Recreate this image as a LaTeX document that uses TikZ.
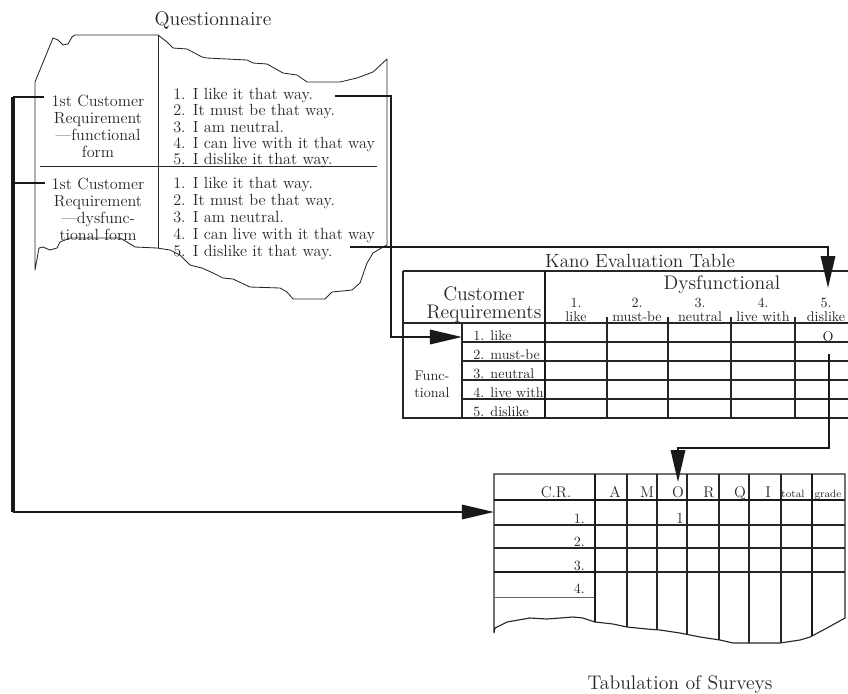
\documentclass[tikz,border=0pt]{standalone}
\usepackage{amsmath}
\usepackage{tikz}
\usetikzlibrary{arrows.meta}

\newcommand{\qitem}[2]{\makebox[14pt][l]{#1}#2}

\begin{document}
\begin{tikzpicture}[x=0.025cm,y=-0.025cm,
		ttl/.style={font=\fontsize{14}{16}\selectfont,text=black!85,inner sep=0pt},
		qtext/.style={font=\fontsize{11.5}{12.1}\selectfont,text=black!85,inner sep=0pt},
		lab/.style={font=\fontsize{10}{11}\selectfont,text=black!85,inner sep=0pt},
		labtiny/.style={font=\fontsize{7.5}{8}\selectfont,text=black!85,inner sep=0pt},
		wavy/.style={line width=0.6pt,black!85,line join=round},
		rule/.style={line width=0.8pt,black!85},
		heavyrule/.style={line width=2pt,black!90},
		link/.style={line width=1.4pt,black!90},
		linkarrow/.style={link,-{Triangle[length=0.8cm,width=0.36cm]}}]

		\useasboundingbox (0,0) rectangle (848,693);

		%------------------------------------------------------
		% questionnaire sheet
		\node[ttl,anchor=base] (qtitle) at (213,25) {Questionnaire};

		\draw[wavy] (35,270) -- (35,82) -- (53,38) -- (58,40) -- (63,45) -- (68,44) -- (72,37) -- (75,35)
			-- (158,35) -- (167,42) -- (173,48) -- (187,49) -- (202,57) -- (207,58) -- (247,60) -- (253,63)
			-- (267,64) -- (283,73) -- (297,75) -- (307,82) -- (340,82) -- (357,78) -- (373,72) -- (387,59)
			-- (387,245) -- (383,247) -- (373,253) -- (367,263) -- (360,283) -- (352,290) -- (332,292)
			-- (325,299) -- (293,299) -- (287,292) -- (280,288) -- (250,287) -- (233,279) -- (223,278)
			-- (213,273) -- (202,268) -- (190,265) -- (180,255) -- (170,250) -- (157,248) -- (135,247)
			-- (127,242) -- (120,238) -- (70,238) -- (60,242) -- (57,248) -- (50,250) -- (43,247)
			-- (39,248) -- cycle;
		\draw[wavy] (158,35) -- (158,248);
		\draw[wavy] (40,166) -- (377,166);
		%------------------------------------------------------


		%------------------------------------------------------
		\node[qtext,align=center] (crfun) at (98,126) {1st Customer\\Requirement\\---functional\\form};
		\node[qtext,align=center] (crdys) at (98,209) {1st Customer\\Requirement\\---dysfunc-\\tional form};

		\node[qtext,anchor=base west] (qa1) at (173,99) {\qitem{1.}{I like it that way.}};
		\node[qtext,anchor=base west] (qa2) at (173,115) {\qitem{2.}{It must be that way.}};
		\node[qtext,anchor=base west] (qa3) at (173,132) {\qitem{3.}{I am neutral.}};
		\node[qtext,anchor=base west] (qa4) at (173,148) {\qitem{4.}{I can live with it that way}};
		\node[qtext,anchor=base west] (qa5) at (173,164) {\qitem{5.}{I dislike it that way.}};

		\node[qtext,anchor=base west] (qb1) at (173,188) {\qitem{1.}{I like it that way.}};
		\node[qtext,anchor=base west] (qb2) at (173,205) {\qitem{2.}{It must be that way.}};
		\node[qtext,anchor=base west] (qb3) at (173,222) {\qitem{3.}{I am neutral.}};
		\node[qtext,anchor=base west] (qb4) at (173,239) {\qitem{4.}{I can live with it that way}};
		\node[qtext,anchor=base west] (qb5) at (173,256) {\qitem{5.}{I dislike it that way.}};
		%------------------------------------------------------


		%------------------------------------------------------
		% Kano table
		\node[ttl,anchor=base,font=\fontsize{13.6}{16}\selectfont] (ktitle) at (640,267) {Kano Evaluation Table};

		\draw[rule] (403,271) -- (848,271);
		\draw[rule] (403,271) -- (403,418) -- (848,418);
		\draw[rule] (403,323) -- (848,323);
		\draw[rule] (462,323) -- (462,418);
		\draw[rule] (462,342) -- (848,342);
		\draw[rule] (462,361) -- (848,361);
		\draw[rule] (462,380) -- (848,380);
		\draw[rule] (462,399) -- (848,399);
		\draw[rule] (607,317) -- (607,418);
		\draw[rule] (668,317) -- (668,418);
		\draw[rule] (731,317) -- (731,418);
		\draw[rule] (795,317) -- (795,418);
		\draw[heavyrule] (545,271) -- (545,418);

		\node[ttl,anchor=base] (kcust) at (484,300) {Customer};
		\node[ttl,anchor=base] (kreq) at (484,318) {Requirements};
		\node[ttl,anchor=base] (kdys) at (722,289) {Dysfunctional};

		\node[lab,anchor=base] (kc1) at (576,307) {1.};
		\node[lab,anchor=base] (kc1t) at (576,321) {like};
		\node[lab,anchor=base] (kc2) at (637,307) {2.};
		\node[lab,anchor=base] (kc2t) at (637,321) {must-be};
		\node[lab,anchor=base] (kc3) at (700,307) {3.};
		\node[lab,anchor=base] (kc3t) at (700,321) {neutral};
		\node[lab,anchor=base] (kc4) at (763,307) {4.};
		\node[lab,anchor=base] (kc4t) at (763,321) {live with};
		\node[lab,anchor=base] (kc5) at (826,307) {5.};
		\node[lab,anchor=base] (kc5t) at (826,321) {dislike};

		\node[lab,anchor=base] (kfun) at (432,380) {Func-};
		\node[lab,anchor=base] (kfun2) at (432,397) {tional};

		\node[lab,anchor=base west] (kr1) at (473,340) {1. like};
		\node[lab,anchor=base west] (kr2) at (473,359) {2. must-be};
		\node[lab,anchor=base west] (kr3) at (473,378) {3. neutral};
		\node[lab,anchor=base west] (kr4) at (473,397) {4. live with};
		\node[lab,anchor=base west] (kr5) at (473,416) {5. dislike};

		\node[lab,anchor=base] (kmark) at (828,341) {O};
		%------------------------------------------------------


		%------------------------------------------------------
		% tabulation of surveys
		\draw[rule] (494,633) -- (494,474) -- (845,474) -- (845,618) -- (827,628) -- (810,637) -- (800,640)
			-- (780,643) -- (733,643) -- (720,640) -- (700,637) -- (680,633) -- (660,630) -- (647,629)
			-- (627,627) -- (613,624) -- (595,622) -- (583,618) -- (573,617) -- (547,619) -- (530,618)
			-- (507,622) -- (495,628) -- (494,633);

		\begin{scope}
			\clip (494,474) -- (845,474) -- (845,618) -- (827,628) -- (810,637) -- (800,640)
				-- (780,643) -- (733,643) -- (720,640) -- (700,637) -- (680,633) -- (660,630) -- (647,629)
				-- (627,627) -- (613,624) -- (595,622) -- (583,618) -- (573,617) -- (547,619) -- (530,618)
				-- (507,622) -- (495,628) -- (494,633) -- cycle;
			\draw[heavyrule] (595,474) -- (595,660);
			\draw[rule] (627,474) -- (627,660);
			\draw[rule] (657,474) -- (657,660);
			\draw[rule] (687,474) -- (687,660);
			\draw[rule] (719,474) -- (719,660);
			\draw[rule] (749,474) -- (749,660);
			\draw[rule] (781,474) -- (781,660);
			\draw[heavyrule] (812,474) -- (812,660);
		\end{scope}

		\draw[heavyrule] (494,500) -- (845,500);
		\draw[rule] (494,525) -- (845,525);
		\draw[rule] (494,548) -- (845,548);
		\draw[rule] (595,572) -- (845,572);
		\draw[line width=1.4pt,black!90] (494,572) -- (595,572);
		\draw[line width=0.5pt,black!60] (494,597) -- (594,597);

		\node[lab,anchor=base,font=\fontsize{11}{12}\selectfont] (tcr) at (556,497) {C.R.};
		\node[lab,anchor=base,font=\fontsize{11}{12}\selectfont] (ta) at (615,497) {A};
		\node[lab,anchor=base,font=\fontsize{11}{12}\selectfont] (tm) at (647,497) {M};
		\node[lab,anchor=base,font=\fontsize{11}{12}\selectfont] (to) at (678,497) {O};
		\node[lab,anchor=base,font=\fontsize{11}{12}\selectfont] (tr) at (709,497) {R};
		\node[lab,anchor=base,font=\fontsize{11}{12}\selectfont] (tq) at (740,497) {Q};
		\node[lab,anchor=base,font=\fontsize{11}{12}\selectfont] (ti) at (768,497) {I};
		\node[labtiny,anchor=base] (ttot) at (793,497) {total};
		\node[labtiny,anchor=base] (tgr) at (828,497) {grade};

		\node[lab,anchor=base east] (tn1) at (585,523) {1.};
		\node[lab,anchor=base east] (tn2) at (585,546) {2.};
		\node[lab,anchor=base east] (tn3) at (585,570) {3.};
		\node[lab,anchor=base east] (tn4) at (585,593) {4.};
		\node[lab,anchor=base,font=\fontsize{11}{12}\selectfont] (tone) at (680,523) {1};

		\node[ttl,anchor=base] (ttitle) at (680,689) {Tabulation of Surveys};
		%------------------------------------------------------


		%------------------------------------------------------
		% connectors
		\coordinate (fout) at (335,96);
		\coordinate (fbend) at (391,96);
		\coordinate (fin) at (462,337);
		\draw[linkarrow] (fout) -- (fbend) |- (fin);

		\coordinate (dout) at (350,247);
		\coordinate (din) at (828,288);
		\draw[linkarrow] (dout) -| (din);

		\coordinate (lf) at (44,97);
		\coordinate (ld) at (45,183);
		\coordinate (ltop) at (13,97);
		\coordinate (lbot) at (13,512);
		\coordinate (lin) at (494,512);
		\draw[link] (lf) -- (ltop);
		\draw[link] (ld) -- (13,183);
		\draw[line width=2.4pt,black!90] (ltop) -- (lbot);
		\draw[linkarrow] (lbot) -- (lin);

		\coordinate (kout) at (829,354);
		\coordinate (kbend) at (829,448);
		\coordinate (tin) at (678,482);
		\draw[linkarrow] (kout) -- (kbend) -| (tin);
		%------------------------------------------------------

	\end{tikzpicture}
\end{document}
